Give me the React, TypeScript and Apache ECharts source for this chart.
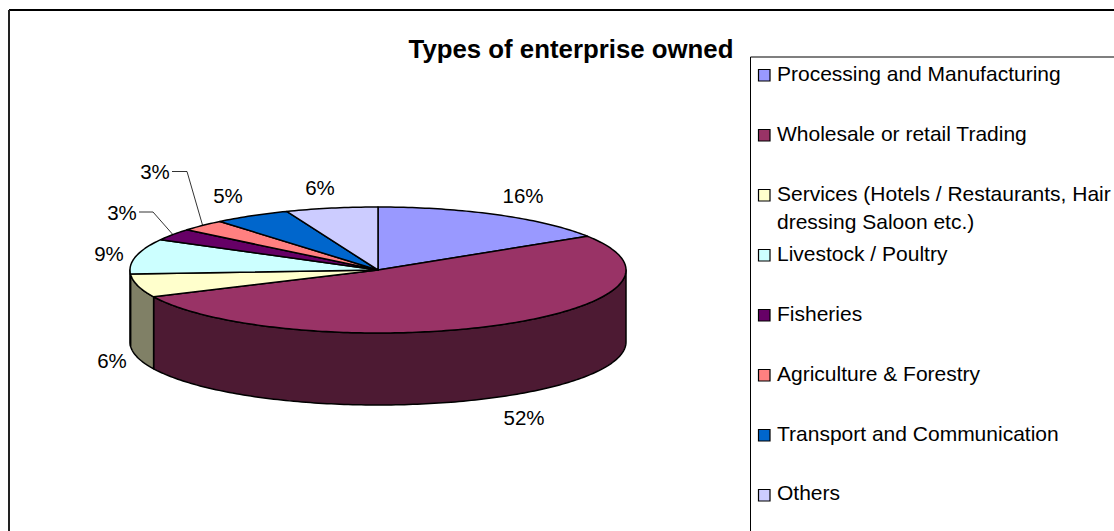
import React, { useEffect, useRef } from "react";
import * as echarts from "echarts";

const chartTitle = "Types of enterprise owned";
const categories = [
  "Processing and Manufacturing",
  "Wholesale or retail Trading",
  "Services (Hotels / Restaurants, Hair\ndressing Saloon etc.)",
  "Livestock / Poultry",
  "Fisheries",
  "Agriculture & Forestry",
  "Transport and Communication",
  "Others",
];
const shares = [16, 52, 6, 9, 3, 3, 5, 6];
const topColors = ["#9999FF", "#993366", "#FFFFCC", "#CCFFFF", "#660066", "#FF8080", "#0066CC", "#CCCCFF"];
const sideColors = ["#4D4D80", "#4D1A33", "#808066", "#668080", "#330033", "#804040", "#003366", "#666680"];

// Label centres, in slice order; leader marks the labels tied to their slice by a line.
const labelCentres = [
  [523, 195],
  [524, 417],
  [112, 360],
  [109, 253],
  [122, 212],
  [155, 171],
  [228, 195],
  [320, 187],
];
const leaderBends: Record<number, number[][]> = {
  4: [[139, 212], [153, 212]],
  5: [[172, 171.5], [187, 171.5]],
};
const legendRows = [73, 133, 207, 253, 313, 373, 433, 492];
const legendMarks = [75, 135, 195, 255, 315, 375, 435, 495];

// Disc geometry: an ellipse seen from above, with a vertical wall under its front half.
const CX = 378;
const CY = 270;
const RX = 248;
const RY = 63;
const DEPTH = 72;
const TOTAL = shares.reduce((a, b) => a + b, 0);

const rimPoint = (deg: number, drop = 0) => {
  const a = (deg * Math.PI) / 180;
  return [CX + RX * Math.sin(a), CY - RY * Math.cos(a) + drop];
};
const startAngle = (index: number) =>
  (shares.slice(0, index).reduce((a, b) => a + b, 0) / TOTAL) * 360;

const arc = (from: number, to: number, drop = 0) => {
  const steps = Math.max(2, Math.ceil(Math.abs(to - from)));
  const out: number[][] = [];
  for (let i = 0; i <= steps; i++) out.push(rimPoint(from + ((to - from) * i) / steps, drop));
  return out;
};

const LINE = { stroke: "#000", lineWidth: 1.5, lineJoin: "round" as const };

const renderWall = (params: any, api: any) => {
  const i = params.dataIndex;
  const a0 = startAngle(i);
  const a1 = a0 + (api.value(0) / TOTAL) * 360;
  const from = Math.max(a0, 90);
  const to = Math.min(a1, 270);
  if (to <= from) return { type: "group", children: [] };
  return {
    type: "polygon",
    shape: { points: [...arc(from, to), ...arc(to, from, DEPTH)] },
    style: { fill: sideColors[i], ...LINE },
  };
};

const renderTop = (params: any, api: any) => {
  const i = params.dataIndex;
  const a0 = startAngle(i);
  const a1 = a0 + (api.value(0) / TOTAL) * 360;
  return {
    type: "polygon",
    shape: { points: [[CX, CY], ...arc(a0, a1)] },
    style: { fill: topColors[i], ...LINE },
  };
};

const renderLabel = (params: any, api: any) => {
  const i = params.dataIndex;
  const value = api.value(0);
  const [x, y] = labelCentres[i];
  const children: any[] = [
    {
      type: "text",
      style: {
        x,
        y,
        text: `${value}%`,
        fill: "#000",
        font: "20.5px 'Liberation Sans', Arial, sans-serif",
        textAlign: "center",
        textVerticalAlign: "middle",
      },
    },
  ];
  const bends = leaderBends[i];
  if (bends) {
    const mid = startAngle(i) + (value / TOTAL) * 180;
    children.push({
      type: "polyline",
      shape: { points: [...bends, rimPoint(mid)] },
      style: { stroke: "#000", lineWidth: 0.8, fill: "none" },
    });
  }
  return { type: "group", children };
};

const legendGraphics = () =>
  categories.flatMap((name, i) => [
    {
      type: "rect",
      shape: { x: 758.5, y: legendMarks[i] - 5.5, width: 11.5, height: 11.5 },
      style: { fill: topColors[i], stroke: "#000", lineWidth: 1.2 },
    },
    {
      type: "text",
      style: {
        x: 777,
        y: legendRows[i],
        text: name,
        fill: "#000",
        font: "21px 'Liberation Sans', Arial, sans-serif",
        lineHeight: 28,
        textAlign: "left",
        textVerticalAlign: "middle",
      },
    },
  ]);

const frameLine = (x1: number, y1: number, x2: number, y2: number, stroke: string, lineWidth: number) => ({
  type: "line",
  shape: { x1, y1, x2, y2 },
  style: { stroke, lineWidth },
});

export default function App() {
  const ref = useRef<HTMLDivElement>(null);

  useEffect(() => {
    if (!ref.current) return;
    const chart = echarts.init(ref.current, null, { renderer: "svg" });
    const data = shares.map((v, i) => ({ name: categories[i], value: v }));
    chart.setOption({
      animation: false,
      backgroundColor: "#fff",
      title: {
        text: chartTitle,
        left: 566,
        top: 31,
        textAlign: "center",
        textStyle: {
          fontFamily: "'Liberation Sans', Arial, sans-serif",
          fontWeight: "bold",
          fontSize: 25.8,
          color: "#000",
        },
      },
      graphic: [
        frameLine(9, 10, 1114, 10, "#000", 2),
        frameLine(9, 10, 9, 531, "#222", 2),
        frameLine(750.5, 57, 1114, 57, "#555", 1.5),
        frameLine(750.5, 57, 750.5, 531, "#000", 1),
        ...legendGraphics(),
      ],
      series: [
        { type: "custom", coordinateSystem: "none", silent: true, clip: false, renderItem: renderWall, data },
        { type: "custom", coordinateSystem: "none", silent: true, clip: false, renderItem: renderTop, data },
        { type: "custom", coordinateSystem: "none", silent: true, clip: false, renderItem: renderLabel, data },
      ],
    });
    return () => chart.dispose();
  }, []);

  return <div ref={ref} style={{ position: "fixed", left: 0, top: 0, width: 1114, height: 531 }} />;
}
